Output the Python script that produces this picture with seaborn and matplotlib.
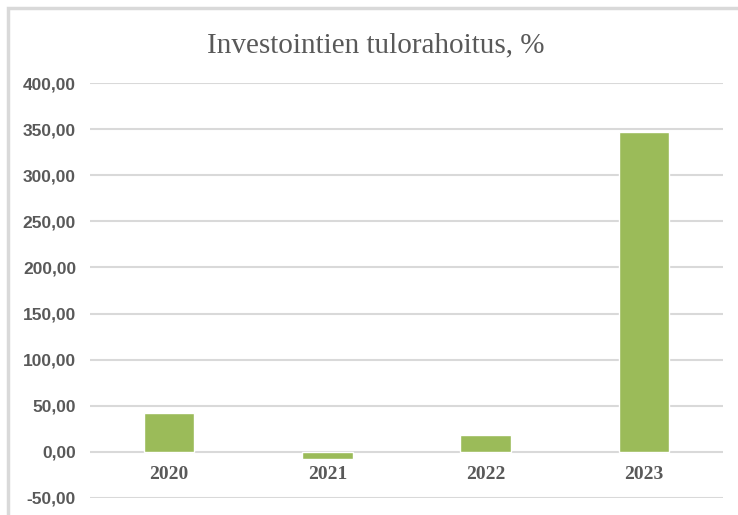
import matplotlib

matplotlib.use("Agg")
import matplotlib.pyplot as plt
import pandas as pd
import seaborn as sns
from matplotlib.patches import Rectangle

TITLE = "Investointien tulorahoitus, %"
YEARS = ["2020", "2021", "2022", "2023"]
VALUES = [42.0, -8.0, 18.5, 346.5]
Y_TICKS = [-50, 0, 50, 100, 150, 200, 250, 300, 350, 400]

BAR_COLOR = "#9BBB59"
TEXT_COLOR = "#595959"
GRID_COLOR = "#D9D9D9"

df = pd.DataFrame({"year": YEARS, "value": VALUES})

sns.set_theme(style="white")
plt.rcParams["font.family"] = ["Liberation Sans", "DejaVu Sans"]

fig = plt.figure(figsize=(7.38, 5.15), dpi=100)
ax = fig.add_axes([90 / 738, 17 / 515, 633 / 738, 415 / 515])

sns.barplot(data=df, x="year", y="value", color=BAR_COLOR, saturation=1,
            width=0.32, ax=ax, zorder=3)

ax.set_ylim(-50, 400)
ax.set_yticks(Y_TICKS)
ax.set_yticklabels([f"{v:.2f}".replace(".", ",") for v in Y_TICKS],
                   fontsize=12.5, fontweight="bold", color=TEXT_COLOR)
ax.tick_params(axis="y", length=0, pad=10)
ax.yaxis.grid(True, color=GRID_COLOR, linewidth=1.5, zorder=0)
ax.set_axisbelow(True)

# x labels sit just under the zero line, as in the original
ax.set_xticks([])
for i, year in enumerate(YEARS):
    ax.text(i, -25, year, ha="center", va="center", fontsize=14,
            fontweight="bold", color=TEXT_COLOR, family="Liberation Serif")

ax.set_xlabel("")
ax.set_ylabel("")
for spine in ax.spines.values():
    spine.set_visible(False)

fig.text(376 / 738, 1 - 45 / 515, TITLE, ha="center", va="center",
         fontsize=21, color=TEXT_COLOR, family="Liberation Serif")

# outer chart frame (only top and left visible in the crop)
fig.add_artist(Rectangle((7.5 / 738, -0.05), 1.1, 1 - 7.5 / 515 + 0.05,
                         transform=fig.transFigure, fill=False,
                         edgecolor=GRID_COLOR, linewidth=2.5))

fig.savefig("out.png", dpi=100)
